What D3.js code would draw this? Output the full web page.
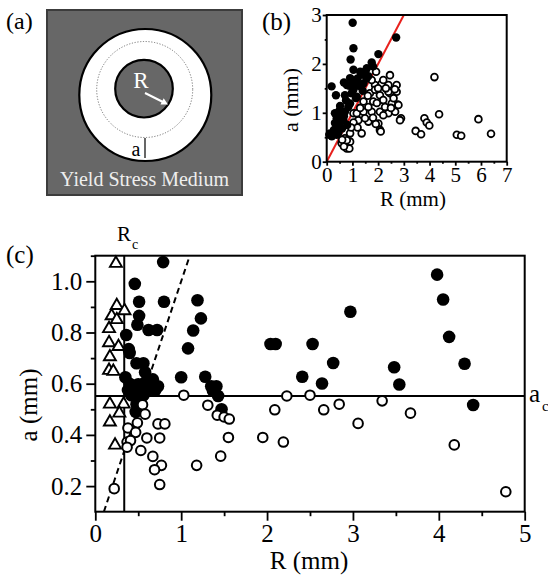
<!DOCTYPE html>
<html>
<head>
<meta charset="utf-8">
<script src="https://cdn.jsdelivr.net/npm/d3@7"></script>
<style>
  html, body { margin: 0; padding: 0; background: #fff; }
  svg { display: block; }
  svg text { font-family: "Liberation Serif", "DejaVu Serif", serif !important; }
</style>
</head>
<body>
<svg id="fig" width="548" height="582" font-family="Liberation Serif, DejaVu Serif, serif"></svg>
<script>
// ---- panel (b): bubble size a vs. radius R (mm) ----
const bSolid = [
  [1.01,2.84],[1.04,2.32],[0.93,2.09],[2.01,2.20],[2.70,2.54],[1.75,2.03],[1.56,1.91],
  [0.19,1.54],[0.91,1.71],[0.67,1.62],[1.04,1.88],[1.30,1.84],[1.43,1.60],[0.36,1.36],
  [0.71,1.36],[0.78,1.57],[0.52,1.14],[0.32,0.99],[0.39,0.89],[0.67,0.93],[0.84,1.12],
  [1.04,1.47],[1.14,1.30],[0.97,1.40],[1.17,1.33],[0.91,1.19],[0.10,0.55],[0.26,0.58],
  [0.52,0.72],[0.45,0.58],[0.80,0.75],[0.65,0.85],[0.71,1.02],[0.32,0.79],[0.13,0.58],
  [0.39,0.55],[1.20,1.70],[1.35,1.78],[1.50,1.85],[1.62,1.75],[1.25,1.55],[1.10,1.62],
  [0.55,0.95],[0.45,0.80],[0.60,0.68],[0.28,0.65],[0.50,1.05],[0.75,1.25],[1.55,1.70],
  [1.80,1.95],[0.20,0.52],[0.88,1.55],[1.40,1.45]
];
const bHollow = [
  [4.19,1.73],[2.72,1.57],[2.72,1.43],[2.76,1.17],[2.89,0.89],[2.85,0.85],[3.80,0.89],
  [3.89,0.80],[3.99,0.74],[4.37,0.97],[3.46,0.63],[3.67,0.56],[5.06,0.55],[5.23,0.53],
  [5.90,0.87],[6.39,0.57],[1.88,1.57],[2.14,1.60],[2.40,1.57],[1.68,1.40],[2.07,1.36],
  [2.46,1.40],[1.81,1.23],[2.20,1.26],[2.53,1.19],[1.43,1.02],[1.75,1.02],[2.07,1.02],
  [2.40,0.99],[2.66,1.02],[1.04,0.99],[1.23,0.85],[1.62,0.82],[2.01,0.78],[2.07,0.65],
  [0.91,0.58],[1.36,0.58],[0.71,0.48],[0.91,0.41],[0.58,0.38],[0.78,0.27],[0.88,0.27],
  [0.67,0.31],[1.88,1.47],[2.20,1.67],[2.46,1.77],[1.92,1.84],[1.75,1.67],[2.40,1.43],
  [2.79,1.16],[1.43,1.23],[1.62,1.12],[2.27,1.12],[1.49,0.89],[1.17,0.99],[1.04,0.80],
  [1.91,0.77],[2.10,0.62],[0.78,0.44],[2.60,1.30],[2.30,1.50],[2.00,1.50],[1.95,1.20],
  [1.60,1.35],[2.65,1.48],[2.50,1.10],[1.30,1.10],[2.20,0.95],[1.80,0.90],[1.20,0.70],
  [0.60,0.45],[0.95,0.70]
];
const bTicksR = [0,1,2,3,4,5,6,7];
const bTicksA = [0,1,2,3];
const bLine = [[0,0],[3,3]];

// ---- panel (c): small-bubble region ----
const cTriangle = [
  [0.24,1.07],[0.25,0.905],[0.34,0.885],[0.19,0.865],[0.25,0.85],[0.16,0.815],[0.16,0.76],
  [0.27,0.745],[0.17,0.705],[0.16,0.652],[0.21,0.648],[0.17,0.52],[0.33,0.52],[0.28,0.485],
  [0.17,0.45],[0.23,0.36]
];
const cSolid = [
  [0.79,1.075],[0.46,0.99],[0.51,0.92],[0.80,0.92],[0.51,0.865],[0.49,0.83],[0.62,0.81],
  [0.72,0.81],[0.36,0.79],[0.39,0.735],[0.40,0.72],[1.08,0.738],[0.48,0.68],[0.56,0.68],
  [0.58,0.645],[0.35,0.625],[1.00,0.625],[1.19,0.926],[1.23,0.855],[1.14,0.808],[1.28,0.627],
  [1.35,0.59],[1.41,0.59],[1.37,0.572],[1.43,0.552],[1.47,0.50],
  [0.40,0.60],[0.45,0.585],[0.50,0.598],[0.58,0.605],[0.66,0.597],[0.73,0.59],[0.62,0.578],
  [0.44,0.57],[0.54,0.578],[0.67,0.617],[0.48,0.56],[0.56,0.555],[0.42,0.555],[0.38,0.575],
  [0.70,0.575],[0.50,0.54],[0.47,0.49],[0.48,0.52],
  [2.04,0.755],[2.10,0.755],[2.41,0.627],[3.98,1.026],[4.05,0.929],[2.97,0.881],[4.12,0.783],
  [2.53,0.755],[2.77,0.681],[4.30,0.678],[3.48,0.664],[2.64,0.601],[3.54,0.597],[4.40,0.517]
];
const cHollow = [
  [1.03,0.555],[0.55,0.518],[0.58,0.481],[0.49,0.447],[0.73,0.443],[0.81,0.443],[0.38,0.427],
  [0.47,0.41],[0.60,0.388],[0.75,0.388],[0.37,0.372],[0.41,0.378],[0.37,0.352],[0.53,0.339],
  [0.67,0.316],[0.77,0.281],[0.69,0.264],[0.75,0.206],[0.22,0.19],[1.31,0.516],[1.42,0.477],
  [1.50,0.47],[1.56,0.462],[1.55,0.39],[1.46,0.317],[1.18,0.281],[1.95,0.39],[2.09,0.498],
  [2.23,0.552],[2.50,0.555],[2.66,0.498],[2.84,0.52],[2.19,0.372],[3.06,0.445],[3.34,0.533],
  [3.67,0.485],[4.18,0.361],[4.78,0.178]
];
const cTicksR = [0,1,2,3,4,5];
const cTicksA = [0.2,0.4,0.6,0.8,1.0];
const Rc = 0.337;   // critical radius
const ac = 0.552;   // critical size
const cLine = [[0.1,0.1],[1.1,1.1]];

const SERIF = "Liberation Serif, DejaVu Serif, serif";
const svg = d3.select("#fig");

// ================= panel (a): schematic =================
const gA = svg.append("g");
gA.append("rect").attr("x", 47).attr("y", 10).attr("width", 195).attr("height", 185)
  .attr("fill", "#676767").attr("stroke", "#3c3c3c").attr("stroke-width", 2);
gA.append("circle").attr("cx", 145.3).attr("cy", 95).attr("r", 66)
  .attr("fill", "#fff").attr("stroke", "#000").attr("stroke-width", 2.2);
gA.append("circle").attr("cx", 144.7).attr("cy", 89.5).attr("r", 48)
  .attr("fill", "none").attr("stroke", "#555").attr("stroke-width", 0.8)
  .attr("stroke-dasharray", "1.2,1.6");
gA.append("circle").attr("cx", 144).attr("cy", 88.7).attr("r", 28.8)
  .attr("fill", "#676767").attr("stroke", "#000").attr("stroke-width", 2.2);
gA.append("text").attr("x", 141).attr("y", 88).attr("text-anchor", "middle")
  .attr("font-size", 23).attr("fill", "#fff").text("R");
gA.append("line").attr("x1", 145).attr("y1", 93).attr("x2", 164).attr("y2", 102.5)
  .attr("stroke", "#fff").attr("stroke-width", 2);
gA.append("path").attr("d", "M168,104.5 L160.5,104.6 L163.7,98.2 Z").attr("fill", "#fff");
gA.append("line").attr("x1", 145).attr("y1", 138).attr("x2", 145).attr("y2", 158)
  .attr("stroke", "#000").attr("stroke-width", 1.2);
gA.append("text").attr("x", 136).attr("y", 156).attr("text-anchor", "middle")
  .attr("font-size", 20).text("a");
gA.append("text").attr("x", 144.5).attr("y", 186).attr("text-anchor", "middle")
  .attr("font-size", 20).attr("fill", "#eee").text("Yield Stress Medium");
svg.append("text").attr("x", 6).attr("y", 29).attr("font-size", 24).text("(a)");

// ================= panel (b) =================
const xb = d3.scaleLinear().domain([0, 7]).range([326.7, 506.7]);
const yb = d3.scaleLinear().domain([0, 3]).range([161.7, 15]);
const gB = svg.append("g");

function frame(g, x, y) {
  const [x0, x1] = x.range(), [y0, y1] = y.range();
  g.append("rect").attr("x", x0).attr("y", y1).attr("width", x1 - x0).attr("height", y0 - y1)
    .attr("fill", "none").attr("stroke", "#000").attr("stroke-width", 2);
}
function axes(g, x, y, rTicks, aTicks, rMinor, aMinor, tickLen, pad, fs, aFmt) {
  const [x0] = x.range(), [y0] = y.range();
  g.append("g").attr("transform", `translate(0,${y0})`)
    .call(d3.axisBottom(x).tickValues(rTicks).tickSize(tickLen).tickPadding(pad).tickFormat(d3.format("d")));
  g.append("g").attr("transform", `translate(${x0},0)`)
    .call(d3.axisLeft(y).tickValues(aTicks).tickSize(tickLen).tickPadding(pad).tickFormat(aFmt));
  g.append("g").attr("transform", `translate(0,${y0})`)
    .call(d3.axisBottom(x).tickValues(rMinor).tickSize(tickLen * 0.5).tickFormat(""));
  g.append("g").attr("transform", `translate(${x0},0)`)
    .call(d3.axisLeft(y).tickValues(aMinor).tickSize(tickLen * 0.5).tickFormat(""));
  g.selectAll("g").attr("font-family", SERIF).attr("font-size", fs);
  g.selectAll(".domain").remove();
  g.selectAll(".tick line").attr("stroke", "#000").attr("stroke-width", 1.8);
  g.selectAll(".tick text").attr("fill", "#000");
  frame(g, x, y);
}

// a = R reference line
gB.append("line")
  .attr("x1", xb(bLine[0][0])).attr("y1", yb(bLine[0][1]))
  .attr("x2", xb(bLine[1][0])).attr("y2", yb(bLine[1][1]))
  .attr("stroke", "#e8211d").attr("stroke-width", 2);
gB.selectAll("circle.h").data(bHollow).join("circle").attr("class", "h")
  .attr("cx", d => xb(d[0])).attr("cy", d => yb(d[1])).attr("r", 3.4)
  .attr("fill", "#fff").attr("stroke", "#000").attr("stroke-width", 1.8);
gB.selectAll("circle.s").data(bSolid).join("circle").attr("class", "s")
  .attr("cx", d => xb(d[0])).attr("cy", d => yb(d[1])).attr("r", 4.2)
  .attr("fill", "#000");
axes(gB, xb, yb, bTicksR, bTicksA, d3.range(0.5, 7, 1), d3.range(0.5, 3, 1), 4, 1, 21, d3.format("d"));
gB.append("text").attr("x", 413).attr("y", 206).attr("text-anchor", "middle")
  .attr("font-size", 21).text("R (mm)");
gB.append("text").attr("transform", "translate(298,100) rotate(-90)").attr("text-anchor", "middle")
  .attr("font-size", 22).text("a (mm)");
svg.append("text").attr("x", 262).attr("y", 30).attr("font-size", 25).text("(b)");

// ================= panel (c) =================
const xc = d3.scaleLinear().domain([0, 5]).range([95.3, 524.7]);
const yc = d3.scaleLinear().domain([0.1, 1.1]).range([511.7, 255.7]);
const gC = svg.append("g");
svg.append("clipPath").attr("id", "clipc").append("rect")
  .attr("x", 95.3).attr("y", 255.7).attr("width", 429.4).attr("height", 256);

gC.append("line").attr("x1", xc(Rc)).attr("x2", xc(Rc)).attr("y1", yc(1.1)).attr("y2", yc(0.1))
  .attr("stroke", "#000").attr("stroke-width", 2);
gC.append("line").attr("x1", xc(0)).attr("x2", xc(5)).attr("y1", yc(ac)).attr("y2", yc(ac))
  .attr("stroke", "#000").attr("stroke-width", 2);
gC.append("line").attr("clip-path", "url(#clipc)")
  .attr("x1", xc(cLine[0][0])).attr("y1", yc(cLine[0][1]))
  .attr("x2", xc(cLine[1][0])).attr("y2", yc(cLine[1][1]))
  .attr("stroke", "#000").attr("stroke-width", 2).attr("stroke-dasharray", "6,4");

gC.selectAll("circle.s").data(cSolid).join("circle").attr("class", "s")
  .attr("cx", d => xc(d[0])).attr("cy", d => yc(d[1])).attr("r", 6.3).attr("fill", "#000");
gC.selectAll("circle.h").data(cHollow).join("circle").attr("class", "h")
  .attr("cx", d => xc(d[0])).attr("cy", d => yc(d[1])).attr("r", 4.8)
  .attr("fill", "#fff").attr("stroke", "#000").attr("stroke-width", 2);
gC.selectAll("path.t").data(cTriangle).join("path").attr("class", "t")
  .attr("d", d3.symbol(d3.symbolTriangle, 62))
  .attr("transform", d => `translate(${xc(d[0])},${yc(d[1])})`)
  .attr("fill", "#fff").attr("stroke", "#000").attr("stroke-width", 1.9);

axes(gC, xc, yc, cTicksR, cTicksA, d3.range(0.5, 5, 1), d3.range(0.1, 1.11, 0.2).slice(1), 9, 4, 25, d3.format(".1f"));

gC.append("text").attr("x", 309).attr("y", 569).attr("text-anchor", "middle")
  .attr("font-size", 25).text("R (mm)");
gC.append("text").attr("transform", "translate(37,405) rotate(-90)").attr("text-anchor", "middle")
  .attr("font-size", 25).text("a (mm)");
const rcLab = gC.append("text").attr("x", 117).attr("y", 241).attr("font-size", 21);
rcLab.append("tspan").text("R");
rcLab.append("tspan").attr("font-size", 14).attr("dy", 8).attr("dx", 1).text("c");
const acLab = gC.append("text").attr("x", 529).attr("y", 402).attr("font-size", 25);
acLab.append("tspan").text("a");
acLab.append("tspan").attr("font-size", 15).attr("dy", 9).attr("dx", 2).text("c");
svg.append("text").attr("x", 6).attr("y", 263).attr("font-size", 25).text("(c)");
</script>
</body>
</html>
